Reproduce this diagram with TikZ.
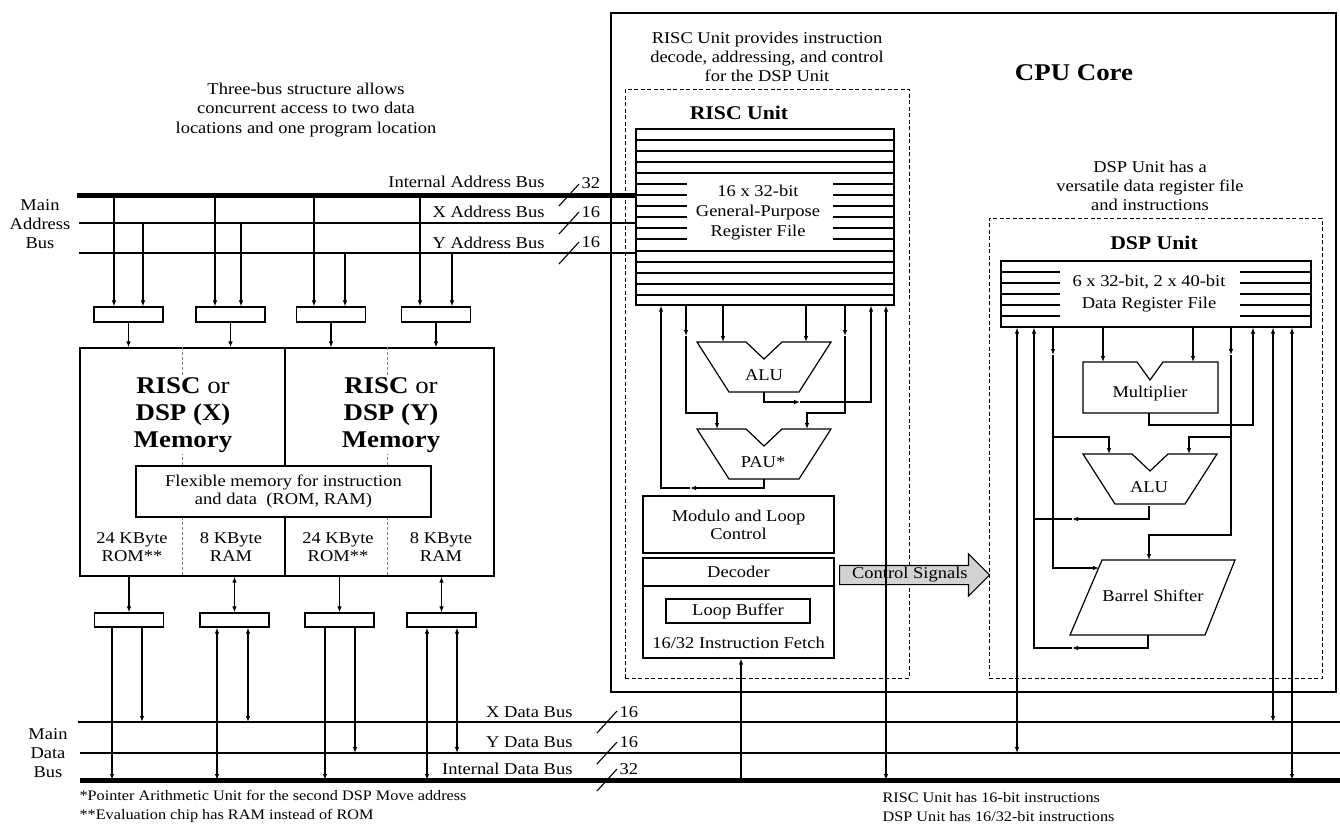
\documentclass[tikz,border=0pt]{standalone}
\usepackage{fontspec}
\setmainfont{Liberation Serif}[FakeStretch=1.12]
\usetikzlibrary{arrows.meta,shapes.arrows}
\tikzset{
    box/.style={draw,line width=1.2pt,inner sep=0pt},
    txt/.style={font=\fontsize{16.5}{18}\selectfont,align=center,inner sep=1pt},
    note/.style={font=\fontsize{16.5}{19}\selectfont,align=center,inner sep=0pt},
    foot/.style={font=\fontsize{14.5}{18.5}\selectfont,align=left,inner sep=0pt,anchor=west},
    title/.style={font=\fontsize{19.4}{22}\selectfont\bfseries,inner sep=0pt},
    memtxt/.style={font=\fontsize{24}{27}\selectfont,align=center,fill=white,inner sep=1pt},
    directed/.style={-{Latex[length=6pt,width=4.5pt]}},
    bidirected/.style={{Latex[length=6pt,width=4.5pt]}-{Latex[length=6pt,width=4.5pt]}},
    bus/.style={line width=2.3pt},
    widebus/.style={line width=5pt},
    unit/.style={draw,line width=1pt,dash pattern=on 4pt off 2.5pt},
    latch/.style={box,minimum width=69,minimum height=15},
    alu/.pic={\draw[line width=1.2pt] (-67,0) -- (-18,0) -- (0,17) -- (18,0) -- (67,0) -- (35,50) -- (-35,50) -- cycle;},
}
\begin{document}
\begin{tikzpicture}[x=1pt,y=-1pt,line width=1.1pt]
\useasboundingbox (0,0) rectangle (1340,823);

% CPU core
\node[box,line width=2.2pt,minimum width=725,minimum height=679] (cpu) at (973.5,352.5) {};
\node[unit,minimum width=284,minimum height=589] (risc) at (767,383.5) {};
\node[unit,minimum width=333,minimum height=460] (dsp) at (1155.5,448) {};
\node[title,font=\fontsize{24}{28}\selectfont\bfseries] (core) at (1074,73) {CPU Core};
\node[title] (risct) at (739,113) {RISC Unit};
\node[title] (dspt) at (1154,243) {DSP Unit};
\node[note] (riscn) at (767,57) {RISC Unit provides instruction\\decode, addressing, and control\\for the DSP Unit};
\node[note] (dspn) at (1150,186) {DSP Unit has a\\versatile data register file\\and instructions};
\node[note,font=\fontsize{16.5}{19.5}\selectfont] (busn) at (306,110) {Three-bus structure allows\\concurrent access to two data\\locations and one program location};

% register files
\node[box,minimum width=258,minimum height=176] (rrf) at (765,217) {};
\foreach \y in {140,151,162,173,251,262,273,284,295}
    \draw (636,\y) -- (894,\y);
\foreach \y in {184,195,206,217,228,239}
    \draw (636,\y) -- (687,\y) (833,\y) -- (894,\y);
\node[txt,font=\fontsize{16.5}{20}\selectfont] (rrft) at (758,213) {16 x 32-bit\\General-Purpose\\Register File};
\node[box,minimum width=310,minimum height=66] (drf) at (1156,294) {};
\foreach \y in {272,283,294,305,316}
    \draw (1001,\y) -- (1060,\y) (1240,\y) -- (1311,\y);
\node[txt,font=\fontsize{16.5}{22}\selectfont] (drft) at (1149,294) {6 x 32-bit, 2 x 40-bit\\Data Register File};

% RISC unit blocks
\pic at (764,342) {alu};
\node[txt] (ralu) at (764,375) {ALU};
\pic at (764,429) {alu};
\node[txt] (pau) at (763,462) {PAU*};
\node[box,txt,minimum width=191,minimum height=57] (mod) at (738.5,524.5) {Modulo and Loop\\Control};
\node[box,minimum width=191,minimum height=100] (fetch) at (738.5,608) {};
\draw[line width=1.2pt] (fetch.west |- 0,586) -- (fetch.east |- 0,586);
\node[txt] (dec) at (738.5,572) {Decoder};
\node[box,txt,minimum width=144,minimum height=24] (lbuf) at (738,611) {Loop Buffer};
\node[txt] (ifetch) at (738.5,643) {16/32 Instruction Fetch};
\node[single arrow,draw,line width=1.2pt,fill=gray!35,txt,minimum height=150,
      single arrow head extend=11.5,inner sep=1.5pt,anchor=west] (ctrl) at (839,575) {Control Signals};

% DSP unit blocks
\draw[line width=1.2pt] (1083,362) -- (1137,362) -- (1150,380) -- (1163,362) -- (1218,362)
    -- (1218,413) -- (1083,413) -- cycle;
\node[txt] (mult) at (1150,394) {Multiplier};
\pic at (1150,454) {alu};
\node[txt] (dalu) at (1149,487) {ALU};
\draw[line width=1.2pt] (1102,560) -- (1235,560) -- (1205,635) -- (1070,635) -- cycle;
\node[txt] (bsh) at (1153,596) {Barrel Shifter};

% memory
\node[box,minimum width=414,minimum height=228] (mem) at (287,462) {};
\draw[line width=1.2pt] (285,0 |- mem.north) -- (285,0 |- mem.south);
\foreach \x in {182,387}
    \draw[gray,line width=1pt,dash pattern=on 3pt off 2pt] (\x,0 |- mem.north) -- (\x,0 |- mem.south);
\node[memtxt] (memx) at (183,415) {\textbf{RISC} or\\\textbf{DSP (X)}\\\textbf{Memory}};
\node[memtxt] (memy) at (391,415) {\textbf{RISC} or\\\textbf{DSP (Y)}\\\textbf{Memory}};
\node[box,txt,fill=white,minimum width=295,minimum height=51] (flex) at (283.5,491.5) {Flexible memory for instruction\\and data~ (ROM, RAM)};
\node[txt] (rom1) at (132,547) {24 KByte\\ROM**};
\node[txt] (ram1) at (231,547) {8 KByte\\RAM};
\node[txt] (rom2) at (338,547) {24 KByte\\ROM**};
\node[txt] (ram2) at (441,547) {8 KByte\\RAM};

% latches
\node[latch] (al1) at (128.5,314.5) {};
\node[latch] (al2) at (230.5,314.5) {};
\node[latch] (al3) at (331,314.5) {};
\node[latch] (al4) at (436,314.5) {};
\node[latch,minimum height=14] (dl1) at (129,620) {};
\node[latch,minimum height=14] (dl2) at (234.5,620) {};
\node[latch,minimum height=14] (dl3) at (339.5,620) {};
\node[latch,minimum height=14] (dl4) at (441.5,620) {};

% address buses
\coordinate (iab) at (77,195);
\coordinate (xab) at (79,223);
\coordinate (yab) at (79,253);
\draw[widebus] (iab) -- (rrf.west |- iab);
\draw[bus] (xab) -- (rrf.west |- xab);
\draw[bus] (yab) -- (rrf.west |- yab);
\node[note] (mab) at (40,224) {Main\\Address\\Bus};
\node[note,anchor=east] at (545,182) {Internal Address Bus};
\node[note,anchor=east] at (545,212) {X Address Bus};
\node[note,anchor=east] at (545,243) {Y Address Bus};
\foreach \y in {195,223,253}
    \draw (559,\y+11) -- (579,\y-11);
\node[note,anchor=west] at (581,183) {32};
\node[note,anchor=west] at (581,212) {16};
\node[note,anchor=west] at (581,242) {16};

% data buses
\coordinate (xdb) at (78,722);
\coordinate (ydb) at (80,753);
\coordinate (idb) at (80,780);
\draw[bus] (xdb) -- (1340,0 |- xdb);
\draw[bus] (ydb) -- (1340,0 |- ydb);
\draw[widebus] (idb) -- (1340,0 |- idb);
\node[note] (mdb) at (48,753) {Main\\Data\\Bus};
\node[note,anchor=east] at (573,712) {X Data Bus};
\node[note,anchor=east] at (573,742) {Y Data Bus};
\node[note,anchor=east] at (573,769) {Internal Data Bus};
\foreach \y in {722,753,780}
    \draw (597,\y+11) -- (617,\y-11);
\node[note,anchor=west] at (619,712) {16};
\node[note,anchor=west] at (619,742) {16};
\node[note,anchor=west] at (619,769) {32};

% address side
\foreach \x/\b in {114/al1,215/al2,314/al3,420/al4}
    \draw[directed] (\x,0 |- iab) -- (\x,0 |- \b.north);
\foreach \x/\b in {143/al1,241/al2}
    \draw[directed] (\x,0 |- xab) -- (\x,0 |- \b.north);
\foreach \x/\b in {345/al3,452/al4}
    \draw[directed] (\x,0 |- yab) -- (\x,0 |- \b.north);
\foreach \b in {al1,al2,al3,al4}
    \draw[directed] (\b.south) -- (\b.south |- mem.north);

% data side
\draw[directed] (dl1.north |- mem.south) -- (dl1.north);
\draw[bidirected] (dl2.north |- mem.south) -- (dl2.north);
\draw[directed] (dl3.north |- mem.south) -- (dl3.north);
\draw[bidirected] (dl4.north |- mem.south) -- (dl4.north);
\draw[directed] (112,0 |- dl1.south) -- (112,0 |- idb);
\draw[directed] (142,0 |- dl1.south) -- (142,0 |- xdb);
\draw[bidirected] (217,0 |- dl2.south) -- (217,0 |- idb);
\draw[bidirected] (248,0 |- dl2.south) -- (248,0 |- xdb);
\draw[directed] (325,0 |- dl3.south) -- (325,0 |- idb);
\draw[directed] (355,0 |- dl3.south) -- (355,0 |- ydb);
\draw[bidirected] (427,0 |- dl4.south) -- (427,0 |- idb);
\draw[bidirected] (457,0 |- dl4.south) -- (457,0 |- ydb);

% RISC unit paths
\draw[directed] (764,479) -- (764,488) -- (690,488);
\draw[directed] (690,488) -- (661,488) -- (661,0 |- rrf.south);
\draw[directed] (686,0 |- rrf.south) -- (686,336);
\draw[directed] (686,336) |- (717,413) -- (717,429);
\draw[directed] (845,0 |- rrf.south) -- (845,336);
\draw[directed] (845,336) |- (807,413) -- (807,429);
\draw[directed] (723,0 |- rrf.south) -- (723,342);
\draw[directed] (806,0 |- rrf.south) -- (806,342);
\draw[directed] (764,392) -- (764,402) -- (800,402);
\draw[directed] (800,402) -- (871,402) -- (871,0 |- rrf.south);
\draw[bidirected] (886,0 |- idb) -- (886,0 |- rrf.south);
\draw[directed] (741,0 |- idb) -- (741,0 |- fetch.south);

% DSP unit paths
\draw[bidirected] (1017,0 |- ydb) -- (1017,0 |- drf.south);
\draw[bidirected] (1273,0 |- xdb) -- (1273,0 |- drf.south);
\draw[bidirected] (1292,0 |- idb) -- (1292,0 |- drf.south);
\draw[directed] (1148,635) -- (1148,648) -- (1072,648);
\draw[directed] (1072,648) -- (1034,648) -- (1034,0 |- drf.south);
\draw[directed] (1149,506) -- (1149,519) -- (1072,519);
\draw (1072,519) -- (1034,519);
\draw[directed] (1053,0 |- drf.south) -- (1053,355);
\draw[directed] (1053,355) |- (1099,568);
\draw[directed] (1053,437) -| (1109,454);
\draw[directed] (1231,0 |- drf.south) -- (1231,355);
\draw[directed] (1231,355) |- (1149,535) -- (1149,560);
\draw[directed] (1231,437) -| (1189,454);
\draw[directed] (1103,0 |- drf.south) -- (1103,362);
\draw[directed] (1193,0 |- drf.south) -- (1193,362);
\draw[directed] (1149,413) -- (1149,425) -| (1253,0 |- drf.south);

% notes
\node[foot] (fn) at (79,806.5) {*Pointer Arithmetic Unit for the second DSP Move address\\**Evaluation chip has RAM instead of ROM};
\node[foot] (in) at (882,807) {RISC Unit has 16-bit instructions\\DSP Unit has 16/32-bit instructions};
\end{tikzpicture}
\end{document}
